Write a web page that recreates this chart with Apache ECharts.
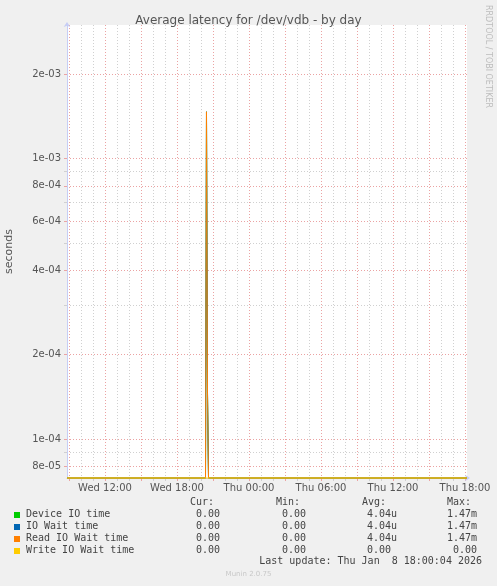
<!DOCTYPE html>
<html>
<head>
<meta charset="utf-8">
<title>Average latency for /dev/vdb - by day</title>
<script src="https://cdn.jsdelivr.net/npm/echarts@6/dist/echarts.min.js"></script>
<style>
  html, body { margin: 0; padding: 0; background: #f0f0f0; }
  #chart { width: 497px; height: 586px; }
</style>
</head>
<body>
<div id="chart"></div>
<script>
// samples, hours counted from Wed 00:00 (Thu 18:00 = 42)
const sampleHours = [8.8333, 20.375, 20.4583, 20.5417, 20.625, 42.1667];
const deviceIoTime = [0, 0, 1.47e-3, 1.46e-4, 0, 0];
const ioWaitTime = [0, 0, 1.47e-3, 1.46e-4, 0, 0];
const readIoWaitTime = [0, 0, 1.47e-3, 1.46e-4, 0, 0];
const writeIoWaitTime = [0, 0, 0, 0, 0, 0];

const xLabelHours = [12, 18, 24, 30, 36, 42];
const xLabelTexts = ['Wed 12:00', 'Wed 18:00', 'Thu 00:00', 'Thu 06:00', 'Thu 12:00', 'Thu 18:00'];
const xMajorHours = [9, 12, 15, 18, 21, 24, 27, 30, 33, 36, 39, 42];
const xMinorHours = [10, 11, 13, 14, 16, 17, 19, 20, 22, 23, 25, 26, 28, 29, 31, 32, 34, 35, 37, 38, 40, 41];
const yMajorTicks = [8e-5, 1e-4, 2e-4, 4e-4, 6e-4, 8e-4, 1e-3, 2e-3];
const yMinorTicks = [9e-5, 3e-4, 5e-4, 7e-4, 9e-4];

const legendNames = ['Device IO time', 'IO Wait time', 'Read IO Wait time', 'Write IO Wait time'];
const legendColors = ['#00cc00', '#0066b3', '#ff8000', '#ffcc00'];
const curValues = ['0.00', '0.00', '0.00', '0.00'];
const minValues = ['0.00', '0.00', '0.00', '0.00'];
const avgValues = ['4.04u', '4.04u', '4.04u', '0.00'];
const maxValues = ['1.47m', '1.47m', '1.47m', '0.00'];

const xMin = 8.8333, xMax = 42.1667;
const yMin = 7.26e-5, yMax = 3.0e-3;

const chart = echarts.init(document.getElementById('chart'));

const textColor = '#555';
const axisColor = '#c6cdf5';
const majorColor = '#eba3a3';
const minorColor = '#d0d0d0';

function expLabel(v) {
    const s = Number(v).toExponential(0); // e.g. 2e-3
    const m = s.match(/^(\d)e([+-])(\d+)$/);
    if (!m) return s;
    return m[1] + 'e' + m[2] + (m[3].length < 2 ? '0' + m[3] : m[3]);
}

// rrdtool draws zeros on a log graph at the bottom edge
function toPoints(values) {
    return values.map((v, i) => [sampleHours[i], Math.max(v, yMin)]);
}

const seriesData = [deviceIoTime, ioWaitTime, readIoWaitTime, writeIoWaitTime];

const series = seriesData.map((vals, i) => ({
    name: legendNames[i],
    type: 'line',
    xAxisIndex: 0,
    yAxisIndex: 0,
    showSymbol: false,
    clip: false,
    lineStyle: { color: legendColors[i], width: 1 },
    itemStyle: { color: legendColors[i] },
    data: toPoints(vals),
    z: 3 + i
}));

// legend table
const mono = 'DejaVu Sans Mono';
const graphics = [];
const headY = 503, rowY0 = 515, rowStep = 12;
[['Cur:', 190], ['Min:', 276], ['Avg:', 362], ['Max:', 447]].forEach(h => {
    graphics.push({ type: 'text', left: h[1], top: headY - 6,
        style: { text: h[0], font: '10px "' + mono + '"', fill: '#444' } });
});
legendNames.forEach((name, i) => {
    const y = rowY0 + i * rowStep;
    graphics.push({ type: 'rect', shape: { x: 14, y: y - 3, width: 6, height: 6 },
        style: { fill: legendColors[i] } });
    graphics.push({ type: 'text', left: 26, top: y - 6,
        style: { text: name, font: '10px "' + mono + '"', fill: '#444' } });
    graphics.push({ type: 'text', left: 196, top: y - 6,
        style: { text: curValues[i], font: '10px "' + mono + '"', fill: '#444' } });
    graphics.push({ type: 'text', left: 282, top: y - 6,
        style: { text: minValues[i], font: '10px "' + mono + '"', fill: '#444' } });
    graphics.push({ type: 'text', left: 367, top: y - 6,
        style: { text: avgValues[i], font: '10px "' + mono + '"', fill: '#444' } });
    graphics.push({ type: 'text', left: maxValues[i].length > 4 ? 447 : 453, top: y - 6,
        style: { text: maxValues[i], font: '10px "' + mono + '"', fill: '#444' } });
});
graphics.push({ type: 'text', right: 15, top: 556,
    style: { text: 'Last update: Thu Jan  8 18:00:04 2026', font: '10px "' + mono + '"', fill: '#444' } });
graphics.push({ type: 'text', left: 'center', top: 571,
    style: { text: 'Munin 2.0.75', font: '7px "DejaVu Sans"', fill: '#c8c8c8' } });
graphics.push({ type: 'text', x: 492, y: 5, rotation: -Math.PI / 2,
    style: { text: 'RRDTOOL / TOBI OETIKER', font: '8px "DejaVu Sans"', fill: '#bdbdbd' } });

chart.setOption({
    animation: false,
    backgroundColor: '#f0f0f0',
    title: {
        text: 'Average latency for /dev/vdb - by day',
        left: 'center',
        top: 10,
        textStyle: { fontFamily: 'DejaVu Sans', fontSize: 12, fontWeight: 'normal', color: textColor }
    },
    grid: {
        left: 67, right: 30, top: 25, bottom: 108,
        containLabel: false, outerBoundsMode: 'none',
        show: true, backgroundColor: '#ffffff', borderWidth: 0
    },
    xAxis: [
        {
            type: 'value', min: xMin, max: xMax,
            axisLine: { show: true, onZero: false, lineStyle: { color: axisColor },
                symbol: ['none', 'arrow'], symbolSize: [5, 5], symbolOffset: [0, 3] },
            axisTick: { show: true, length: 3, customValues: xMajorHours, lineStyle: { color: majorColor } },
            axisLabel: {
                customValues: xLabelHours, margin: 5,
                fontFamily: 'DejaVu Sans', fontSize: 10, color: textColor,
                formatter: v => xLabelTexts[xLabelHours.indexOf(Math.round(v))] || ''
            },
            splitLine: { show: true, lineStyle: { color: majorColor, type: [1, 2], width: 1 } },
            z: 2
        },
        {
            type: 'value', min: xMin, max: xMax, position: 'bottom',
            axisLine: { show: false },
            axisTick: { show: true, length: 3, customValues: xMinorHours, lineStyle: { color: minorColor } },
            axisLabel: { show: false },
            splitLine: { show: true, lineStyle: { color: minorColor, type: [1, 2], width: 1 } },
            z: 1
        }
    ],
    yAxis: [
        {
            type: 'log', logBase: 10, min: yMin, max: yMax,
            name: 'seconds', nameLocation: 'middle', nameGap: 52,
            nameTextStyle: { fontFamily: 'DejaVu Sans', fontSize: 11, color: textColor },
            axisLine: { show: true, lineStyle: { color: axisColor },
                symbol: ['none', 'arrow'], symbolSize: [5, 5], symbolOffset: [0, 3] },
            axisTick: { show: true, length: 3, customValues: yMajorTicks, lineStyle: { color: majorColor } },
            axisLabel: {
                customValues: yMajorTicks, margin: 6,
                fontFamily: 'DejaVu Sans', fontSize: 10, color: textColor,
                formatter: expLabel
            },
            splitLine: { show: true, lineStyle: { color: majorColor, type: [1, 2], width: 1 } },
            z: 2
        },
        {
            type: 'log', logBase: 10, min: yMin, max: yMax, position: 'left',
            axisLine: { show: false },
            axisTick: { show: true, length: 3, customValues: yMinorTicks, lineStyle: { color: minorColor } },
            axisLabel: { show: false },
            splitLine: { show: true, lineStyle: { color: minorColor, type: [1, 2], width: 1 } },
            z: 1
        }
    ],
    graphic: graphics,
    series: series
});
</script>
</body>
</html>
